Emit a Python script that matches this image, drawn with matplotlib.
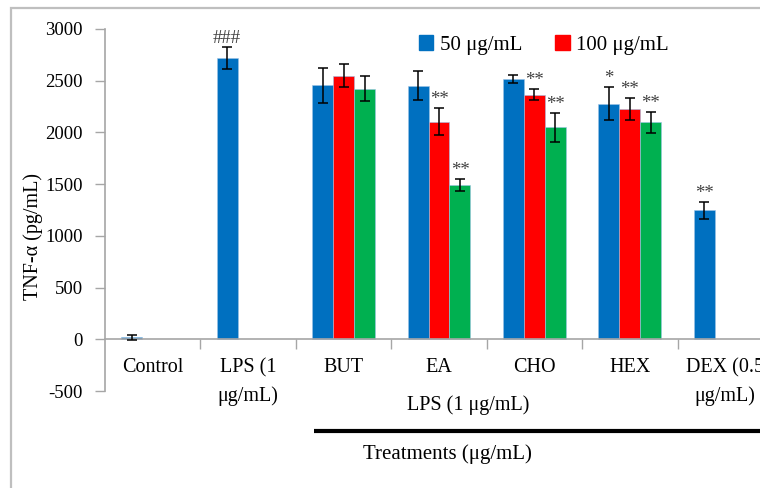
import numpy as np
import matplotlib.pyplot as plt
import matplotlib.transforms as mtransforms
from matplotlib.patches import Patch, Rectangle

plt.rcParams["font.family"] = ["Liberation Serif", "DejaVu Serif"]

groups = ["Control", "LPS (1\nμg/mL)", "BUT", "EA", "CHO", "HEX", "DEX (0.5\nμg/mL)"]
series_labels = ["50 μg/mL", "100 μg/mL", "150 μg/mL"]
nan = np.nan
mean_50 = [18, 2717, 2457, 2453, 2514, 2279, 1247]
err_50 = [22, 108, 170, 140, 37, 160, 85]
mean_100 = [nan, nan, 2550, 2103, 2363, 2225, nan]
err_100 = [nan, nan, 115, 130, 53, 105, nan]
mean_150 = [nan, nan, 2424, 1488, 2048, 2096, nan]
err_150 = [nan, nan, 120, 57, 140, 105, nan]
sig_50 = ["", "###", "", "", "", "*", "**"]
sig_100 = ["", "", "", "**", "**", "**", ""]
sig_150 = ["", "", "", "**", "**", "**", ""]
yticks = [-500, 0, 500, 1000, 1500, 2000, 2500, 3000]

colors = ["#0070C0", "#FF0000", "#00B050"]
gray = "#A6A6A6"

fig = plt.figure(figsize=(7.6, 4.88), dpi=100)
W, H = 760, 488
ax = fig.add_axes([105 / W, (H - 391) / H, (773 - 105) / W, (391 - 29) / H])

x = np.arange(len(groups)) + 0.5
width = 0.22
means = [mean_50, mean_100, mean_150]
errs = [err_50, err_100, err_150]
sigs = [sig_50, sig_100, sig_150]

for k in range(3):
    pos = x + (k - 1) * width
    m = np.array(means[k], dtype=float)
    e = np.array(errs[k], dtype=float)
    ax.bar(pos, m, width, color=colors[k], edgecolor="#9DC3E6", linewidth=0.4, zorder=2)
    ax.errorbar(pos, m, yerr=e, fmt="none", ecolor="black", elinewidth=1.1,
                capsize=3.8, capthick=1.1, zorder=3)
    for p, mv, ev, s in zip(pos, m, e, sigs[k]):
        if s:
            ax.annotate(s, (p, mv + ev), xytext=(0, 0), textcoords="offset pixels",
                        ha="center", va="bottom", fontsize=13.5, color="#404040")

ax.set_xlim(0, 7)
ax.set_ylim(-500, 3000)
ax.set_yticks(yticks)
ax.set_yticklabels([str(t) for t in yticks], fontsize=13.5)
ax.set_xticks(np.arange(1, 8))
ax.set_xticklabels([])
ax.tick_params(axis="y", length=7, width=1, color=gray, pad=9)
ax.tick_params(axis="x", length=7, width=1, color=gray, direction="out")

for s in ["top", "right"]:
    ax.spines[s].set_visible(False)
ax.spines["bottom"].set_position(("data", 0))
ax.spines["bottom"].set_color(gray)
ax.spines["left"].set_color(gray)
ax.spines["bottom"].set_linewidth(1.2)
ax.spines["left"].set_linewidth(1.2)

for xi, g in zip(x, groups):
    ax.annotate(g, (xi, 0), xytext=(0, -19), textcoords="offset pixels",
                ha="center", va="top", fontsize=14.5, linespacing=1.6)

blend = mtransforms.blended_transform_factory(ax.transData, ax.transAxes)
ax.text(3.81, -0.04, "LPS (1 μg/mL)", transform=blend, ha="center", va="center", fontsize=14.5)
ax.plot([2.19, 7.0], [-0.1105, -0.1105], transform=blend, color="black",
        linewidth=3, clip_on=False, solid_capstyle="butt")
ax.text(3.59, -0.174, "Treatments (μg/mL)", transform=blend, ha="center", va="center", fontsize=15)

fig.text(33 / W, 1 - 237 / H, "TNF-α (pg/mL)", rotation=90, ha="center", va="center", fontsize=14.5)

handles = [Patch(color=colors[0]), Patch(color=colors[1])]
ax.legend(handles, series_labels[:2], loc="center left", bbox_to_anchor=(400 / W, 1 - 45 / H),
          bbox_transform=fig.transFigure, ncol=2, frameon=False, fontsize=15,
          handlelength=0.7, handleheight=0.7, handletextpad=0.3, columnspacing=1.6)

fig.patches.append(Rectangle((11 / W, -0.1), 1.2, 1 - 8 / H + 0.1, transform=fig.transFigure,
                             fill=False, edgecolor="#BFBFBF", linewidth=1.6))

fig.savefig("out.png", dpi=100)
